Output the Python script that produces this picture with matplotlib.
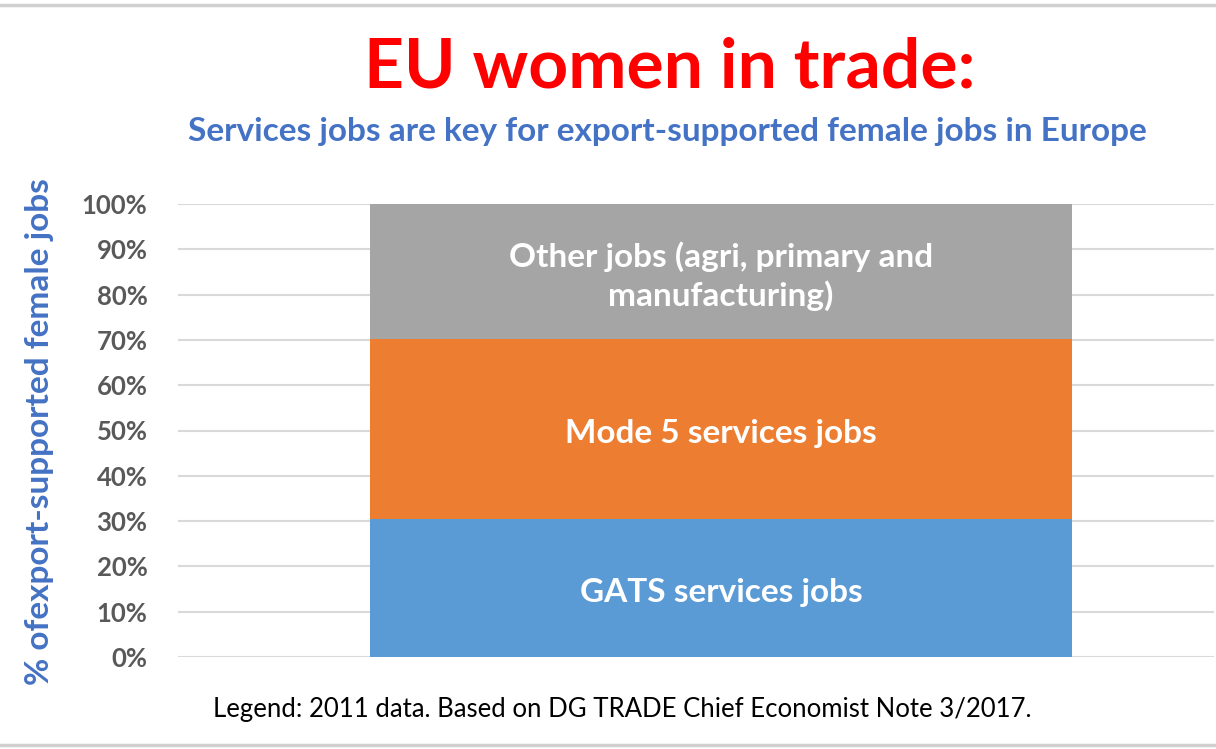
import numpy as np
import matplotlib.pyplot as plt
from matplotlib.lines import Line2D

# shares of export-supported female jobs (%)
segments = ['GATS services jobs', 'Mode 5 services jobs',
            'Other jobs (agri, primary and\nmanufacturing)']
shares = [30.5, 39.7, 29.8]
colors = ['#5b9bd5', '#ed7d31', '#a5a5a5']
yticks = np.arange(0, 101, 10)

plt.rcParams['font.family'] = ['Lato', 'DejaVu Sans']

W, H = 1216, 749
fig = plt.figure(figsize=(W/100, H/100), dpi=100)
ax = fig.add_axes([178/W, 1 - 657/H, (1214 - 178)/W, (657 - 204)/H])

bottom = 0
for name, val, col in zip(segments, shares, colors):
    ax.bar(0, val, width=1, bottom=bottom, color=col, zorder=3)
    ax.text(0, bottom + val/2 - 1, name, ha='center', va='center', color='white',
            fontsize=24, fontweight='bold', linespacing=1.3, zorder=4)
    bottom += val

ax.set_xlim(-0.5 - 192/702, 0.5 + 142/702)
ax.set_ylim(0, 100)
ax.set_yticks(yticks)
ax.set_yticklabels(['%d%%' % v for v in yticks], fontsize=18.5,
                   fontweight='bold', color='#595959')
ax.set_xticks([])
ax.tick_params(axis='y', length=0, pad=22)
ax.grid(axis='y', color='#d9d9d9', linewidth=1.5, zorder=0)
for s in ax.spines.values():
    s.set_visible(False)

fig.text(40/W, 1 - 432/H, '% ofexport-supported female jobs', rotation=90,
         ha='center', va='center', fontsize=24, fontweight='bold', color='#4472c4')

fig.text(670/W, 1 - 68/H, 'EU women in trade:', ha='center', va='center',
         fontsize=50, fontweight='bold', color='#ff0000')
fig.text(667/W, 1 - 132/H, 'Services jobs are key for export-supported female jobs in Europe',
         ha='center', va='center', fontsize=24, fontweight='bold', color='#4472c4')
fig.text(622/W, 1 - 709/H,
         'Legend: 2011 data. Based on DG TRADE Chief Economist Note 3/2017.',
         ha='center', va='center', fontsize=18.5, color='black')

# thin frame lines at top and bottom of the picture
fig.add_artist(Line2D([0, 1], [1 - 5/H] * 2, color='#d0d0d0', lw=2.5))
fig.add_artist(Line2D([0, 1], [1 - 745/H] * 2, color='#d0d0d0', lw=2.5))

fig.savefig('out.png', dpi=100)
